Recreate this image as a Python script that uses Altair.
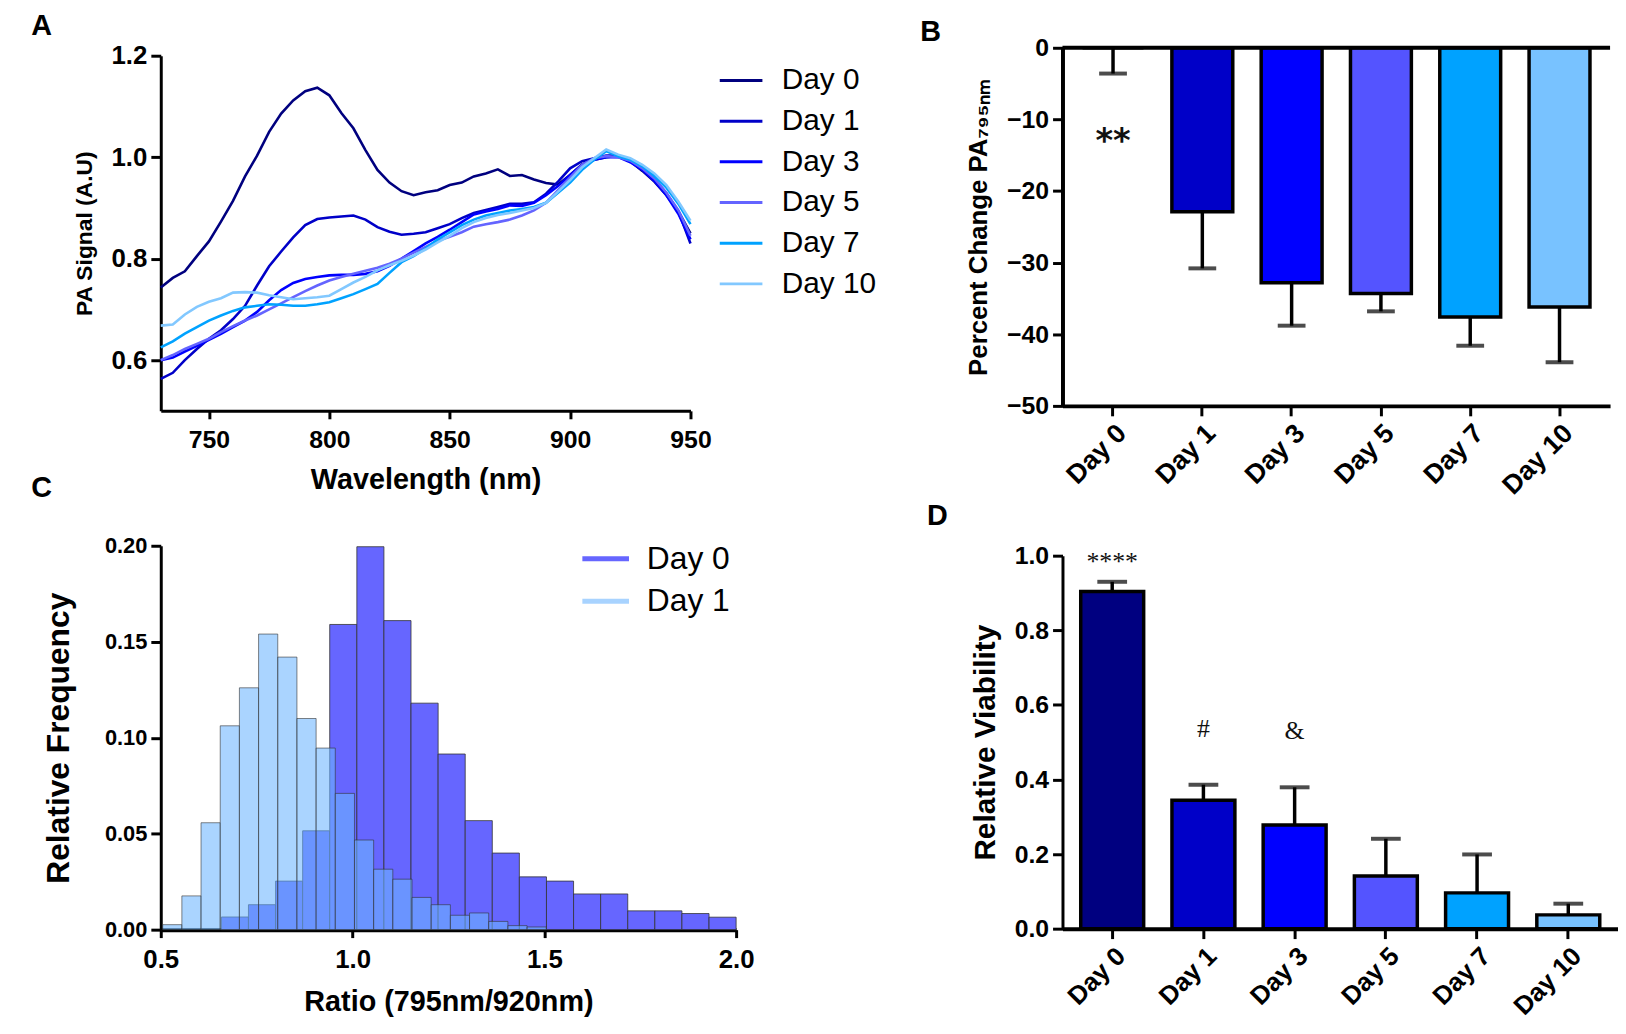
import altair as alt
import pandas as pd

BOLD = "Liberation Sans"
SERIF = "Liberation Serif"

DAYS = ["Day 0", "Day 1", "Day 3", "Day 5", "Day 7", "Day 10"]
LINE_COLORS = ["#00007f", "#0000c8", "#0000ff", "#6464ff", "#00a2ff", "#82c8ff"]
BAR_COLORS = ["#000080", "#0000c8", "#0000ff", "#5454ff", "#00a2ff", "#78c2ff"]

# ---- Panel A: PA spectra ----
WAVELENGTH = [730, 735, 740, 745, 750, 755, 760, 765, 770, 775, 780, 785, 790, 795, 800,
              805, 810, 815, 820, 825, 830, 835, 840, 845, 850, 855, 860, 865, 870, 875,
              880, 885, 890, 895, 900, 905, 910, 915, 920, 925, 930, 935, 940, 945, 950]
PA_DAY0 = [0.743, 0.762, 0.775, 0.805, 0.834, 0.873, 0.914, 0.962, 1.003, 1.050, 1.086, 1.112,
           1.130, 1.137, 1.122, 1.087, 1.057, 1.014, 0.975, 0.950, 0.933, 0.925, 0.931, 0.935,
           0.945, 0.950, 0.962, 0.968, 0.976, 0.963, 0.965, 0.956, 0.949, 0.946, 0.965, 0.986,
           0.995, 1.000, 1.003, 0.992, 0.973, 0.952, 0.925, 0.893, 0.850]
PA_DAY1 = [0.563, 0.575, 0.600, 0.622, 0.642, 0.659, 0.681, 0.707, 0.747, 0.785, 0.814, 0.842,
           0.866, 0.878, 0.881, 0.883, 0.885, 0.877, 0.862, 0.853, 0.847, 0.849, 0.852, 0.860,
           0.868, 0.880, 0.890, 0.896, 0.902, 0.908, 0.908, 0.911, 0.928, 0.952, 0.978, 0.992,
           0.998, 1.003, 1.003, 0.995, 0.978, 0.957, 0.929, 0.893, 0.830]
PA_DAY3 = [0.600, 0.605, 0.617, 0.628, 0.640, 0.652, 0.665, 0.678, 0.695, 0.718, 0.738, 0.752,
           0.760, 0.764, 0.767, 0.768, 0.768, 0.770, 0.775, 0.786, 0.800, 0.815, 0.830, 0.843,
           0.857, 0.872, 0.887, 0.893, 0.898, 0.905, 0.904, 0.910, 0.925, 0.943, 0.965, 0.985,
           0.995, 1.000, 1.000, 0.990, 0.975, 0.953, 0.925, 0.888, 0.838]
PA_DAY5 = [0.600, 0.610, 0.622, 0.632, 0.642, 0.655, 0.667, 0.678, 0.688, 0.700, 0.712, 0.724,
           0.736, 0.747, 0.757, 0.764, 0.770, 0.776, 0.782, 0.790, 0.800, 0.812, 0.823, 0.835,
           0.843, 0.852, 0.863, 0.868, 0.872, 0.877, 0.885, 0.895, 0.910, 0.935, 0.960, 0.985,
           0.998, 1.002, 1.000, 0.993, 0.978, 0.958, 0.930, 0.895, 0.845]
PA_DAY7 = [0.625, 0.637, 0.652, 0.665, 0.678, 0.688, 0.697, 0.704, 0.707, 0.710, 0.709, 0.707,
           0.707, 0.710, 0.714, 0.722, 0.730, 0.740, 0.750, 0.772, 0.793, 0.805, 0.820, 0.838,
           0.852, 0.866, 0.877, 0.885, 0.890, 0.895, 0.898, 0.902, 0.910, 0.930, 0.950, 0.975,
           0.995, 1.012, 1.002, 0.995, 0.982, 0.963, 0.940, 0.908, 0.868]
PA_DAY10 = [0.668, 0.670, 0.690, 0.705, 0.715, 0.722, 0.733, 0.734, 0.733, 0.728, 0.724, 0.720,
            0.722, 0.724, 0.727, 0.740, 0.753, 0.764, 0.777, 0.787, 0.796, 0.806, 0.818, 0.832,
            0.845, 0.860, 0.872, 0.880, 0.886, 0.890, 0.895, 0.900, 0.910, 0.932, 0.955, 0.980,
            0.998, 1.015, 1.005, 0.998, 0.985, 0.968, 0.945, 0.912, 0.875]

# ---- Panel B: percent change PA795 ----
PCT_MEAN = [0.0, -22.9, -32.8, -34.3, -37.6, -36.2]
PCT_ERR = [3.6, 7.9, 6.0, 2.5, 4.0, 7.7]

# ---- Panel C: histogram of ratio ----
DAY0_EDGES = [0.658, 0.7286, 0.7993, 0.8699, 0.9405, 1.0112, 1.0818, 1.1524, 1.2231, 1.2937,
              1.3643, 1.4349, 1.5056, 1.5762, 1.6468, 1.7175, 1.7881, 1.8587, 1.9294, 2.0]
DAY0_FREQ = [0.0066, 0.0130, 0.0253, 0.0515, 0.159, 0.1995, 0.161, 0.118, 0.0915, 0.0568,
             0.0399, 0.0275, 0.0253, 0.0186, 0.0186, 0.0098, 0.0098, 0.0084, 0.0065]
DAY1_EDGES = [0.505, 0.555, 0.605, 0.655, 0.705, 0.755, 0.805, 0.855, 0.905, 0.955, 1.005,
              1.055, 1.105, 1.155, 1.205, 1.255, 1.305, 1.355, 1.405, 1.455, 1.505]
DAY1_FREQ = [0.0026, 0.0176, 0.0557, 0.1062, 0.126, 0.154, 0.142, 0.110, 0.0946, 0.071,
             0.0467, 0.0315, 0.0263, 0.0168, 0.013, 0.0075, 0.0087, 0.0043, 0.0021, 0.0014]
HIST_SERIES = ["Day 0", "Day 1"]
HIST_COLORS = ["#6666ff", "#6cb5ff"]
HIST_LEGEND_COLORS = ["#6666ff", "#a8d3ff"]

# ---- Panel D: relative viability ----
VIAB_MEAN = [0.904, 0.344, 0.278, 0.141, 0.096, 0.037]
VIAB_ERR = [0.026, 0.042, 0.101, 0.100, 0.103, 0.030]
SIG_TEXT = ["****", "#", "&"]
SIG_DAY = ["Day 0", "Day 1", "Day 3"]
SIG_Y = [0.962, 0.515, 0.509]


def axis(**kw):
    base = dict(domainColor="black", tickColor="black", labelColor="black",
                titleColor="black", grid=False, labelFontWeight="bold",
                titleFontWeight="bold", titleFont=BOLD, labelFont=BOLD)
    base.update(kw)
    return alt.Axis(**base)


def letter(t, dx, dy):
    return alt.Chart(pd.DataFrame({"t": [t]})).mark_text(
        font=BOLD, fontSize=29, fontWeight="bold", align="center", baseline="middle",
        color="black").encode(text="t:N", x=alt.value(dx), y=alt.value(dy))


# ---------- Panel A ----------
rowsA = []
for day, vals in zip(DAYS, [PA_DAY0, PA_DAY1, PA_DAY3, PA_DAY5, PA_DAY7, PA_DAY10]):
    for w, v in zip(WAVELENGTH, vals):
        rowsA.append({"day": day, "wl": w, "pa": v})
dfA = pd.DataFrame(rowsA)

lineA = alt.Chart(dfA).mark_line(strokeWidth=2.6).encode(
    x=alt.X("wl:Q", scale=alt.Scale(domain=[730, 950], nice=False, zero=False,
                                    range=[0, 534]),
            axis=axis(values=[750, 800, 850, 900, 950], title="Wavelength (nm)",
                      titleFontSize=29, labelFontSize=25,
                      domainWidth=3, tickWidth=3, tickSize=8, labelPadding=9,
                      titlePadding=13, labelFlush=False)),
    y=alt.Y("pa:Q", scale=alt.Scale(domain=[0.5, 1.2], nice=False, zero=False,
                                    range=[366, 8]),
            axis=axis(values=[0.6, 0.8, 1.0, 1.2], format=".1f", title="PA Signal  (A.U)",
                      titleFontSize=23, labelFontSize=26,
                      domainWidth=3, tickWidth=3, tickSize=10, labelPadding=4,
                      titlePadding=15)),
    color=alt.Color("day:N", scale=alt.Scale(domain=DAYS, range=LINE_COLORS),
                    legend=alt.Legend(title=None, orient="none", legendX=562, legendY=10,
                                      symbolType="stroke", symbolSize=1849,
                                      symbolStrokeWidth=3, labelFontSize=30,
                                      labelFont=BOLD, labelColor="black",
                                      labelOffset=18, rowPadding=3, padding=0)),
    detail="day:N",
)
panelA = alt.layer(lineA, letter("A", -120, -22)).properties(width=589, height=366)

# ---------- Panel B ----------
dfB = pd.DataFrame({"day": DAYS, "mean": PCT_MEAN,
                    "low": [m - e for m, e in zip(PCT_MEAN, PCT_ERR)]})
xB = alt.X("day:N", sort=DAYS, scale=alt.Scale(paddingInner=0.318, paddingOuter=0.225),
           axis=axis(title=None, labelAngle=315, labelAlign="right", labelBaseline="top",
                     labelFontSize=27, domainWidth=4, tickWidth=3,
                     tickSize=10, labelPadding=4))
yB = alt.Y("mean:Q", scale=alt.Scale(domain=[-50, 0], nice=False),
           axis=axis(values=[0, -10, -20, -30, -40, -50],
                     title="Percent Change PA₇₉₅ₙₘ", titleFontSize=26,
                     labelFontSize=25, domainWidth=4, tickWidth=3,
                     tickSize=10, labelPadding=4, titlePadding=15))
barsB = alt.Chart(dfB).mark_bar(stroke="black", strokeWidth=3.5).encode(
    x=xB, y=yB,
    fill=alt.Fill("day:N", scale=alt.Scale(domain=DAYS, range=BAR_COLORS), legend=None))
errB = alt.Chart(dfB).mark_rule(color="black", strokeWidth=3.5).encode(
    x=xB, y="mean:Q", y2="low:Q")
capB = alt.Chart(dfB).mark_tick(color="black", thickness=4, size=28).encode(
    x=xB, y="low:Q")
zeroB = alt.Chart(pd.DataFrame({"z": [0]})).mark_rule(color="black", strokeWidth=4).encode(
    y=alt.Y("z:Q"))
starB = alt.Chart(pd.DataFrame({"day": ["Day 0"], "y": [-12.0], "t": ["**"]})).mark_text(
    font="DejaVu Sans", fontWeight="bold", fontSize=34, baseline="middle", dy=8,
    color="#111").encode(x=xB, y="y:Q", text="t:N")
panelB = alt.layer(barsB, errB, capB, zeroB, starB, letter("B", -133, -16)).properties(
    width=552, height=361)

# ---------- Panel C ----------
dfC0 = pd.DataFrame({"lo": DAY0_EDGES[:-1], "hi": DAY0_EDGES[1:], "freq": DAY0_FREQ,
                     "day": "Day 0"})
dfC1 = pd.DataFrame({"lo": DAY1_EDGES[:-1], "hi": DAY1_EDGES[1:], "freq": DAY1_FREQ,
                     "day": "Day 1"})
xC = alt.X("lo:Q", scale=alt.Scale(domain=[0.5, 2.0], nice=False, zero=False),
           axis=axis(values=[0.5, 1.0, 1.5, 2.0], format=".1f",
                     title="Ratio (795nm/920nm)", titleFontSize=29,
                     labelFontSize=26, domainWidth=4, tickWidth=3, tickSize=8,
                     labelPadding=9, titlePadding=15, labelFlush=False))
yC = alt.Y("freq:Q", scale=alt.Scale(domain=[0, 0.2], nice=False),
           axis=axis(values=[0, 0.05, 0.10, 0.15, 0.20], format=".2f",
                     title="Relative Frequency", titleFontSize=32,
                     labelFontSize=22, domainWidth=3, tickWidth=3, tickSize=10,
                     labelPadding=4, titlePadding=29))
fillC = alt.Fill("day:N", scale=alt.Scale(domain=HIST_SERIES, range=HIST_COLORS),
                 legend=None)
histC0 = alt.Chart(dfC0).mark_rect(stroke="#333", strokeWidth=1, strokeOpacity=0.8).encode(
    x=xC, x2="hi:Q", y=yC, y2=alt.datum(0), fill=fillC)
histC1 = alt.Chart(dfC1).mark_rect(stroke="#333", strokeWidth=1, strokeOpacity=0.6,
                                   fillOpacity=0.58).encode(
    x=xC, x2="hi:Q", y=yC, y2=alt.datum(0), fill=fillC)


# legend key for panel C (swatch line + label, placed in the panel's top-right corner)
def key_entry(name, color, row):
    yy = 13 + 43 * row
    swatch = alt.Chart(pd.DataFrame({"n": [name]})).mark_rule(
        color=color, strokeWidth=5).encode(
        x=alt.value(425), x2=alt.value(472), y=alt.value(yy))
    label = alt.Chart(pd.DataFrame({"n": [name]})).mark_text(
        font=BOLD, fontSize=32, align="left", baseline="middle", color="black").encode(
        text="n:N", x=alt.value(490), y=alt.value(yy))
    return [swatch, label]


keyC = []
for i, (nm, col) in enumerate(zip(HIST_SERIES, HIST_LEGEND_COLORS)):
    keyC += key_entry(nm, col, i)

panelC = alt.layer(histC0, histC1, *keyC, letter("C", -120, -58)).properties(
    width=580, height=387)

# ---------- Panel D ----------
dfD = pd.DataFrame({"day": DAYS, "mean": VIAB_MEAN,
                    "high": [m + e for m, e in zip(VIAB_MEAN, VIAB_ERR)]})
xD = alt.X("day:N", sort=DAYS, scale=alt.Scale(paddingInner=0.31, paddingOuter=0.2),
           axis=axis(title=None, labelAngle=315, labelAlign="right", labelBaseline="top",
                     labelFontSize=26, domainWidth=4, tickWidth=3,
                     tickSize=10, labelPadding=4))
yD = alt.Y("mean:Q", scale=alt.Scale(domain=[0, 1.0], nice=False, range=[386, 10]),
           axis=axis(values=[0, 0.2, 0.4, 0.6, 0.8, 1.0], format=".1f",
                     title="Relative Viability", titleFontSize=30,
                     labelFontSize=25, domainWidth=3, tickWidth=3, tickSize=10,
                     labelPadding=4, titlePadding=14))
barsD = alt.Chart(dfD).mark_bar(stroke="black", strokeWidth=3.5).encode(
    x=xD, y=yD,
    fill=alt.Fill("day:N", scale=alt.Scale(domain=DAYS, range=BAR_COLORS), legend=None))
errD = alt.Chart(dfD).mark_rule(color="black", strokeWidth=3.5).encode(
    x=xD, y="mean:Q", y2="high:Q")
capD = alt.Chart(dfD).mark_tick(color="black", thickness=4, size=30).encode(
    x=xD, y="high:Q")
sigD = alt.Chart(pd.DataFrame({"day": SIG_DAY, "y": SIG_Y, "t": SIG_TEXT})).mark_text(
    font=SERIF, fontSize=26, baseline="alphabetic", color="#111").encode(
    x=xD, y="y:Q", text="t:N")
panelD = alt.layer(barsD, errD, capD, sigD, letter("D", -126, -30)).properties(
    width=560, height=386)

# ---------- Layout ----------
chart = alt.concat(
    panelA, panelB, panelC, panelD,
    columns=2,
    align={"row": "each", "column": "none"},
    bounds="flush",
    spacing={"row": 136, "column": 320},
).resolve_scale(
    color="independent", fill="independent",
    x="independent", y="independent",
).properties(
    padding={"left": 23, "top": 0, "right": 0, "bottom": 0},
    background="white",
).configure_view(strokeWidth=0)

chart.save("out.html", embed_options={"renderer": "svg", "actions": False})
